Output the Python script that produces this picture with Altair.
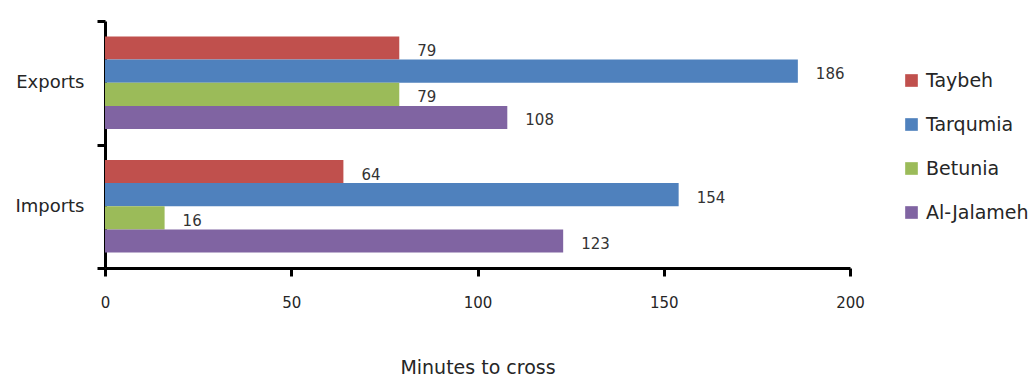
import altair as alt
import pandas as pd

# Average crossing times (minutes) at four West Bank crossings
directions = ["Exports", "Imports"]
crossings = ["Taybeh", "Tarqumia", "Betunia", "Al-Jalameh"]
export_minutes = [79, 186, 79, 108]
import_minutes = [64, 154, 16, 123]
palette = ["#C0504D", "#4F81BD", "#9BBB59", "#8064A2"]

rows = []
for direction, values in zip(directions, [export_minutes, import_minutes]):
    for crossing, minutes in zip(crossings, values):
        rows.append({"direction": direction, "crossing": crossing, "minutes": minutes})
df = pd.DataFrame(rows)

FONT = "DejaVu Sans"
INK = "#262626"

y_enc = alt.Y(
    "direction:N",
    sort=directions,
    title=None,
    scale=alt.Scale(paddingInner=0, paddingOuter=0),
    axis=alt.Axis(
        tickBand="extent",
        grid=False,
        domainColor="black",
        domainWidth=3,
        tickColor="black",
        tickWidth=3,
        tickSize=8,
        labelPadding=13,
        labelFont=FONT,
        labelFontSize=18,
        labelColor=INK,
    ),
)
y_off = alt.YOffset(
    "crossing:N",
    sort=crossings,
    scale=alt.Scale(paddingInner=0, paddingOuter=0.667),
)
x_enc = alt.X(
    "minutes:Q",
    title="Minutes to cross",
    scale=alt.Scale(domain=[0, 200], nice=False),
    axis=alt.Axis(
        values=[0, 50, 100, 150, 200],
        grid=False,
        labelFlush=False,
        domainColor="black",
        domainWidth=3,
        tickColor="black",
        tickWidth=3,
        tickSize=8,
        labelPadding=19,
        labelFont=FONT,
        labelFontSize=15,
        labelColor=INK,
        titleFont=FONT,
        titleFontSize=19,
        titleFontWeight="normal",
        titleColor=INK,
        titlePadding=48,
    ),
)

bars = alt.Chart(df).mark_bar().encode(
    x=x_enc,
    y=y_enc,
    yOffset=y_off,
    color=alt.Color(
        "crossing:N",
        sort=crossings,
        scale=alt.Scale(domain=crossings, range=palette),
        legend=alt.Legend(
            title=None,
            orient="none",
            legendX=797,
            legendY=50,
            symbolType="square",
            symbolSize=160,
            symbolStrokeWidth=0,
            labelFont=FONT,
            labelFontSize=19,
            labelColor=INK,
            labelOffset=5,
            rowPadding=24,
        ),
    ),
)

labels = alt.Chart(df).mark_text(
    align="left", baseline="middle", dx=18, dy=3,
    font=FONT, fontSize=15, color="#333333",
).encode(
    x=alt.X("minutes:Q", axis=alt.Axis(grid=False)),
    y=alt.Y("direction:N", sort=directions),
    yOffset=alt.YOffset("crossing:N", sort=crossings),
    text="minutes:Q",
)

chart = (
    alt.layer(bars, labels)
    .properties(
        width=745,
        height=247,
        background="white",
        autosize=alt.AutoSizeParams(type="none"),
        padding={"left": 105, "top": 21, "right": 185, "bottom": 108},
    )
    .configure_axis(grid=False)
    .configure_view(stroke=None, strokeWidth=0)
)

chart.save("out.html", embed_options={"renderer": "svg", "actions": False})
